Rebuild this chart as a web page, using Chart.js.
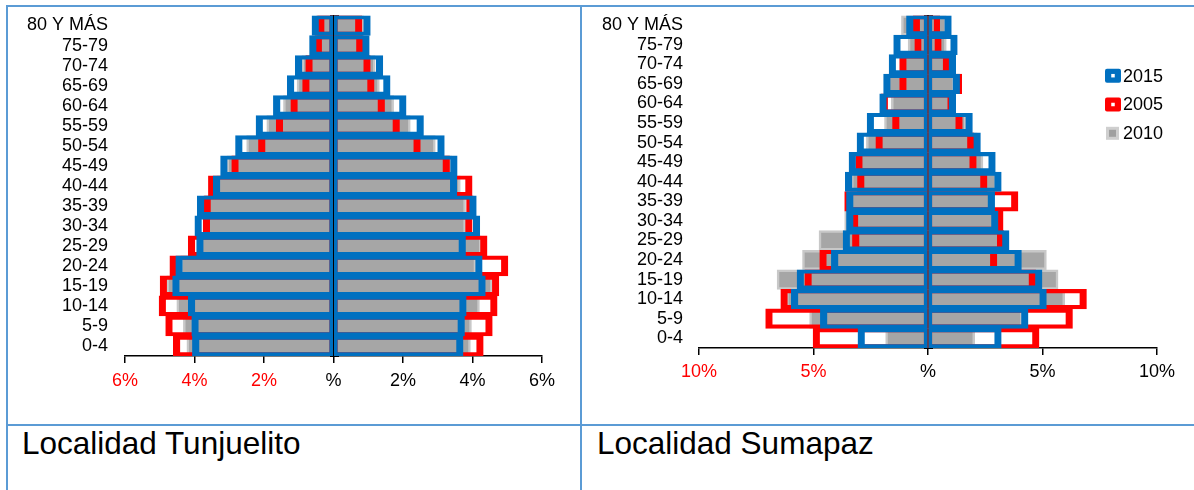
<!DOCTYPE html>
<html><head><meta charset="utf-8">
<script src="https://cdn.jsdelivr.net/npm/chart.js@4.4.1/dist/chart.umd.min.js"></script>
<style>
html,body{margin:0;padding:0;background:#fff;}
body{width:1194px;height:490px;position:relative;overflow:hidden;font-family:"Liberation Sans",Arial,sans-serif;}
.ln{position:absolute;background:#5b9bd5;}
canvas{position:absolute;}
.cap{position:absolute;font-size:31.5px;line-height:31.5px;color:#000;white-space:nowrap;}
</style></head><body>
<div class="ln" style="left:6px;top:5px;width:1188px;height:2px"></div>
<div class="ln" style="left:6px;top:5px;width:2px;height:485px"></div>
<div class="ln" style="left:580px;top:5px;width:2px;height:485px"></div>
<div class="ln" style="left:6px;top:424px;width:1188px;height:2px"></div>
<canvas id="c1" width="572" height="416" style="left:8px;top:7px"></canvas>
<canvas id="c2" width="612" height="416" style="left:582px;top:7px"></canvas>
<div class="cap" style="left:22px;top:428px">Localidad Tunjuelito</div>
<div class="cap" style="left:597px;top:428px">Localidad Sumapaz</div>
<script>
const ageGroups = ['80 Y MÁS','75-79','70-74','65-69','60-64','55-59','50-54','45-49','40-44','35-39','30-34','25-29','20-24','15-19','10-14','5-9','0-4'];
const legendYears = ['2015','2005','2010'];

// Localidad Tunjuelito (% población) — lado izquierdo / lado derecho
const tunLeft2015  = [0.62,0.69,1.10,1.33,1.73,2.23,2.82,3.25,3.46,3.92,3.99,3.94,4.54,4.63,4.18,4.08,4.06];
const tunLeft2005  = [0.46,0.53,0.80,0.89,1.23,1.65,2.16,2.93,3.60,3.73,3.75,4.18,4.71,4.99,5.02,4.83,4.61];
const tunLeft2010  = [0.50,0.55,0.91,1.05,1.44,1.92,2.50,3.07,3.35,3.70,3.70,3.85,4.40,4.80,4.51,4.32,4.22];
const tunRight2015 = [1.06,1.03,1.42,1.63,2.09,2.59,3.19,3.56,3.55,4.11,4.21,3.80,4.28,4.37,3.82,3.77,3.73];
const tunRight2005 = [0.82,0.85,1.06,1.17,1.47,1.90,2.50,3.34,3.99,4.02,3.99,4.42,5.02,4.76,4.71,4.57,4.31];
const tunRight2010 = [0.88,0.87,1.20,1.32,1.73,2.21,2.93,3.40,3.65,3.80,3.80,4.25,4.10,4.57,4.20,3.97,3.94];

// Localidad Sumapaz (% población)
const sumLeft2015  = [0.94,1.50,1.70,1.94,2.11,2.66,3.10,3.45,3.61,3.56,3.56,3.71,4.22,5.72,5.97,4.70,3.06];
const sumLeft2005  = [0.65,0.58,1.24,1.24,2.05,1.55,2.28,3.16,3.08,3.64,3.35,3.30,4.73,5.38,6.43,7.09,5.02];
const sumLeft2010  = [1.16,0.87,1.15,1.75,1.60,1.90,2.69,3.00,3.35,3.40,3.64,4.76,5.48,6.59,6.18,5.17,1.85];
const sumRight2015 = [1.02,1.28,1.21,1.38,1.21,1.94,2.29,2.94,3.20,2.91,3.06,3.54,4.08,4.98,5.17,4.37,3.20];
const sumRight2005 = [0.51,0.58,0.95,1.47,1.15,1.50,2.01,2.11,2.58,3.93,3.28,3.31,3.01,4.70,6.92,6.31,4.85];
const sumRight2010 = [0.80,0.80,0.97,1.15,1.08,1.67,2.15,2.40,3.00,2.75,2.90,3.13,5.17,5.68,5.97,4.12,2.04];

const yearColor = {'2015':'#0070c0','2005':'#ff0000','2010':'#a6a6a6'};
const FONT = '"Liberation Sans", Arial, sans-serif';

function barSet(year, values, side) {
  const base = {
    label: year,
    data: values.map(v => side === 'L' ? -v : v),
    grouped: false, borderSkipped: false,
    categoryPercentage: 1, barPercentage: 1
  };
  if (year === '2010') {
    return Object.assign(base, {backgroundColor: yearColor[year], borderColor: '#c8c8c8', borderWidth: 2.5, order: 2});
  }
  return Object.assign(base, {
    backgroundColor: 'rgba(0,0,0,0)',
    borderColor: yearColor[year],
    order: year === '2015' ? 0 : 1,
    borderWidth: side === 'L' ? {top:3.5,bottom:3.5,left:6.5,right:3} : {top:3.5,bottom:3.5,left:3,right:6.5}
  });
}

const insideLegend = {
  id: 'insideLegend',
  afterDraw(chart, args, opts) {
    if (!opts || !opts.show) return;
    const ctx = chart.ctx;
    ctx.save();
    legendYears.forEach((yr, i) => {
      const cy = opts.y + i * opts.gap;
      const x0 = opts.x;
      if (yr === '2010') {
        ctx.fillStyle = '#cfcfcf';
        ctx.fillRect(x0 + 1, cy - 6.5, 13, 13);
        ctx.fillStyle = '#a0a0a0';
        ctx.fillRect(x0 + 4, cy - 3.5, 7, 7);
      } else {
        ctx.fillStyle = yearColor[yr];
        ctx.beginPath();
        if (ctx.roundRect) ctx.roundRect(x0, cy - 7, 16, 14, 2); else ctx.rect(x0, cy - 7, 16, 14);
        ctx.fill();
        ctx.fillStyle = '#fff';
        ctx.fillRect(x0 + 6.25, cy - 1.75, 3.5, 3.5);
      }
      ctx.fillStyle = '#000';
      ctx.font = '18px ' + FONT;
      ctx.textBaseline = 'middle';
      ctx.textAlign = 'left';
      ctx.fillText(yr, opts.textX, cy + 1);
    });
    ctx.restore();
  }
};

function zeroPad(s) { s.paddingTop = 0; s.paddingBottom = 0; s.paddingLeft = 0; s.paddingRight = 0; }

function makeChart(id, L15, L05, L10, R15, R05, R10, cfg) {
  const datasets = [
    barSet('2015', L15, 'L'), barSet('2015', R15, 'R'),
    barSet('2005', L05, 'L'), barSet('2005', R05, 'R'),
    barSet('2010', L10, 'L'), barSet('2010', R10, 'R')
  ];
  const centerAxis = (offsetGrid, len, border) => ({
    type: 'category', position: {x: 0}, offset: true, z: 1,
    afterFit: zeroPad,
    ticks: {display: false},
    grid: {offset: offsetGrid, drawOnChartArea: false, drawTicks: true, tickLength: len, color: '#000', lineWidth: 1},
    border: {display: border, color: '#000', width: 2}
  });
  return new Chart(document.getElementById(id), {
    type: 'bar',
    data: {labels: ageGroups, datasets},
    plugins: [insideLegend],
    options: {
      indexAxis: 'y', responsive: false, animation: false, devicePixelRatio: 1,
      layout: {padding: {left: 0, right: cfg.padRight, top: 8.5, bottom: cfg.padBottom}},
      plugins: {legend: {display: false}, tooltip: {enabled: false}, insideLegend: cfg.legend},
      scales: {
        x: {
          type: 'linear', position: 'bottom', min: -cfg.max, max: cfg.max,
          afterFit(s) { s.height = 40; zeroPad(s); },
          ticks: {
            stepSize: cfg.step, autoSkip: false, maxRotation: 0, padding: cfg.tickPad,
            font: {size: 18, family: FONT},
            color: (c) => (c.tick && c.tick.value < 0) ? '#ff0000' : '#000',
            callback: (v) => v === 0 ? '%' : Math.abs(v) + '%'
          },
          grid: {drawOnChartArea: false, drawTicks: true, tickLength: 7, color: '#000', lineWidth: 1.5},
          border: {display: true, color: '#000', width: 1.5}
        },
        y: {
          type: 'category', position: 'left', offset: true,
          afterFit(s) { s.width = 117; zeroPad(s); },
          ticks: {autoSkip: false, padding: cfg.labelPad, color: '#000', font: {size: 18, family: FONT}},
          grid: {display: false, drawTicks: false},
          border: {display: false}
        },
        yc: centerAxis(true, 3, true),
        yb: centerAxis(true, -5, false),
        ym: centerAxis(false, -5, false)
      }
    }
  });
}

makeChart('c1', tunLeft2015, tunLeft2005, tunLeft2010, tunRight2015, tunRight2005, tunRight2010,
  {max: 6, step: 2, padRight: 38, padBottom: 27, tickPad: 7.5, labelPad: 17, legend: {show: false}});
makeChart('c2', sumLeft2015, sumLeft2005, sumLeft2010, sumRight2015, sumRight2005, sumRight2010,
  {max: 10, step: 5, padRight: 37, padBottom: 35, tickPad: 6, labelPad: 16,
   legend: {show: true, x: 523, y: 68.7, gap: 28.8, textX: 541}});
</script>
</body></html>
